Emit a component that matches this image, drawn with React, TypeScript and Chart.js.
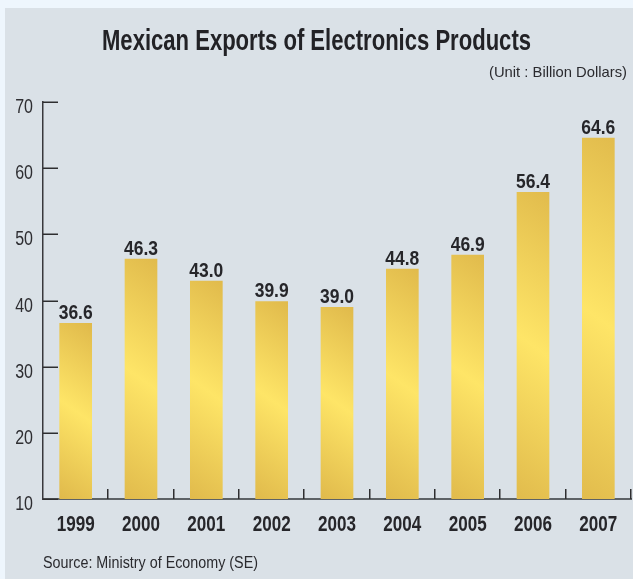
import React, { useEffect, useRef } from "react";
import { Chart, registerables } from "chart.js";

Chart.register(...registerables);

const years = ["1999", "2000", "2001", "2002", "2003", "2004", "2005", "2006", "2007"];
const exportsBn = [36.6, 46.3, 43.0, 39.9, 39.0, 44.8, 46.9, 56.4, 64.6];
const yTicks = [10, 20, 30, 40, 50, 60, 70];
const titleText = "Mexican Exports of Electronics Products";
const unitText = "(Unit : Billion Dollars)";
const sourceText = "Source: Ministry of Economy (SE)";

const FONT = '"Liberation Sans", Arial, sans-serif';
const W = 633;
const H = 579;

function drawScaled(ctx: any, text: string, x: number, y: number, font: string, sx: number, align: string, color: string) {
  ctx.save();
  ctx.font = font;
  ctx.fillStyle = color;
  ctx.textAlign = align;
  ctx.textBaseline = "alphabetic";
  ctx.translate(x, y);
  ctx.scale(sx, 1);
  ctx.fillText(text, 0, 0);
  ctx.restore();
}

function drawFit(ctx: any, text: string, x: number, y: number, font: string, width: number, align: string, color: string) {
  ctx.save();
  ctx.font = font;
  const m = ctx.measureText(text).width;
  ctx.restore();
  drawScaled(ctx, text, x, y, font, width / m, align, color);
}

const decorPlugin = {
  id: "decor",
  beforeDraw(chart: any) {
    const ctx = chart.ctx;
    ctx.save();
    ctx.fillStyle = "#eef6fd";
    ctx.fillRect(0, 0, W, H);
    ctx.fillStyle = "#dae1e7";
    ctx.fillRect(5, 8, W - 5, H - 8);
    ctx.restore();
  },
  afterDatasetsDraw(chart: any) {
    const ctx = chart.ctx;
    const xs = chart.scales.x;
    const ys = chart.scales.y;
    const area = chart.chartArea;
    ctx.save();
    ctx.strokeStyle = "#2e2e30";
    ctx.lineWidth = 1.5;
    ys.ticks.forEach((t: any) => {
      const yp = ys.getPixelForValue(t.value);
      const y = Math.round(yp) + 0.25;
      ctx.beginPath();
      ctx.moveTo(area.left, y);
      ctx.lineTo(area.left + 15, y);
      ctx.stroke();
      drawScaled(ctx, String(t.value), area.left - 10, yp + 11, "20px " + FONT, 0.8, "right", "#2e2e32");
    });
    const step = xs.width / years.length;
    for (let i = 1; i <= years.length; i++) {
      const x = Math.round(xs.left + i * step) - 0.25;
      ctx.beginPath();
      ctx.moveTo(x, area.bottom);
      ctx.lineTo(x, area.bottom - 10);
      ctx.stroke();
    }
    years.forEach((lab, i) => {
      drawFit(ctx, lab, xs.getPixelForValue(i), area.bottom + 32, "bold 22px " + FONT, 38, "center", "#26262a");
    });
    const meta = chart.getDatasetMeta(0);
    meta.data.forEach((el: any, i: number) => {
      drawFit(ctx, exportsBn[i].toFixed(1), el.x, el.y - 4, "bold 21px " + FONT, 34, "center", "#26262a");
    });
    drawFit(ctx, titleText, 316.5, 50, "bold 29px " + FONT, 429, "center", "#222226");
    drawFit(ctx, unitText, 627, 77, "15px " + FONT, 138, "right", "#2a2a2e");
    drawFit(ctx, sourceText, 43, 568, "16px " + FONT, 215, "left", "#2a2a2e");
    ctx.restore();
  },
};

export default function App() {
  const ref = useRef<HTMLCanvasElement | null>(null);
  useEffect(() => {
    if (!ref.current) return;
    const chart = new Chart(ref.current, {
      type: "bar",
      data: {
        labels: years,
        datasets: [
          {
            data: exportsBn,
            base: 10,
            barPercentage: 0.5,
            categoryPercentage: 1,
            backgroundColor: (c: any) => {
              const ch = c.chart;
              const xs = ch.scales?.x;
              const ys = ch.scales?.y;
              if (!xs || !ys || !ch.chartArea || c.dataIndex === undefined) return "#e8c453";
              const cx = xs.getPixelForValue(c.dataIndex);
              const top = ys.getPixelForValue(exportsBn[c.dataIndex]);
              const bot = ys.getPixelForValue(10);
              const h = bot - top;
              const g = ch.ctx.createLinearGradient(cx + 0.35 * h, top, cx - 0.35 * h, bot);
              g.addColorStop(0, "#d6ab42");
              g.addColorStop(0.5, "#fee567");
              g.addColorStop(1, "#d6ab42");
              return g;
            },
            borderWidth: 0,
          },
        ],
      },
      options: {
        responsive: false,
        animation: false,
        layout: { padding: { top: 102, right: 2, left: 0, bottom: 0 } },
        plugins: { legend: { display: false }, tooltip: { enabled: false }, title: { display: false } },
        scales: {
          x: {
            offset: true,
            grid: { display: false, drawTicks: false },
            border: { display: true, color: "#5d6266", width: 2 },
            ticks: { display: false },
            afterFit: (s: any) => {
              s.height = 80;
            },
          },
          y: {
            min: yTicks[0],
            max: yTicks[yTicks.length - 1],
            grid: { display: false, drawTicks: false },
            border: { display: true, color: "#38383c", width: 1.5 },
            ticks: { stepSize: 10, display: false },
            afterFit: (s: any) => {
              s.width = 43;
            },
          },
        },
      },
      plugins: [decorPlugin],
    });
    return () => chart.destroy();
  }, []);
  return (
    <div style={{ position: "absolute", left: 0, top: 0, width: W, height: H }}>
      <canvas ref={ref} width={W} height={H} style={{ display: "block", width: W, height: H }} />
    </div>
  );
}
